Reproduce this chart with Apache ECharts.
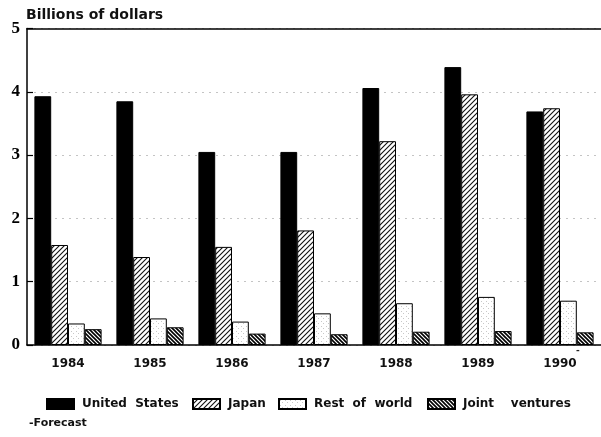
<!DOCTYPE html>
<html>
<head>
<meta charset="utf-8">
<script src="https://cdn.jsdelivr.net/npm/echarts@6/dist/echarts.min.js"></script>
<style>
  html, body { margin: 0; padding: 0; background: #fff; }
  #chart { width: 601px; height: 437px; }
</style>
</head>
<body>
<div id="chart"></div>
<script>
// Investment by source, billions of dollars (1990 is a forecast)
const years = ['1984', '1985', '1986', '1987', '1988', '1989', '1990'];
const unitedStates = [3.93, 3.85, 3.05, 3.05, 4.06, 4.39, 3.69];
const japan        = [1.58, 1.39, 1.55, 1.81, 3.22, 3.96, 3.74];
const restOfWorld  = [0.34, 0.42, 0.37, 0.50, 0.66, 0.76, 0.70];
const jointVentures = [0.25, 0.28, 0.18, 0.17, 0.21, 0.22, 0.20];
const yTicks = [0, 1, 2, 3, 4, 5];
const forecastYear = '1990';

// Fill patterns for the bars
function makePattern(size, draw) {
  const c = document.createElement('canvas');
  c.width = size; c.height = size;
  const ctx = c.getContext('2d');
  ctx.fillStyle = '#fff';
  ctx.fillRect(0, 0, size, size);
  draw(ctx, size);
  return { image: c, repeat: 'repeat' };
}
// forward-slash hatching
const hatchForward = makePattern(5, (ctx, s) => {
  ctx.strokeStyle = '#111';
  ctx.lineWidth = 1.1;
  ctx.beginPath();
  ctx.moveTo(-1, s + 1); ctx.lineTo(s + 1, -1);
  ctx.moveTo(-1, 1); ctx.lineTo(1, -1);
  ctx.moveTo(s - 1, s + 1); ctx.lineTo(s + 1, s - 1);
  ctx.stroke();
});
// dense back-slash hatching
const hatchBack = makePattern(4, (ctx, s) => {
  ctx.strokeStyle = '#000';
  ctx.lineWidth = 1.6;
  ctx.beginPath();
  ctx.moveTo(-1, -1); ctx.lineTo(s + 1, s + 1);
  ctx.moveTo(s - 1, -1); ctx.lineTo(s + 1, 1);
  ctx.moveTo(-1, s - 1); ctx.lineTo(1, s + 1);
  ctx.stroke();
});
// light stipple
const stipple = makePattern(5, (ctx) => {
  ctx.fillStyle = '#c8c8c8';
  ctx.fillRect(1, 1, 1, 1);
  ctx.fillRect(3, 3, 1, 1);
});

const sansBold = { fontFamily: 'DejaVu Sans', fontWeight: 'bold', color: '#111' };

function barSeries(name, data, fill) {
  return {
    name: name,
    type: 'bar',
    data: data,
    barWidth: 16.8,
    barGap: '0%',
    itemStyle: { color: fill, borderColor: '#000', borderWidth: 1 },
    emphasis: { disabled: true }
  };
}

function legendAt(name, left, gapText) {
  return {
    data: [name],
    left: left,
    top: 398,
    padding: 0,
    icon: 'rect',
    itemWidth: 27,
    itemHeight: 10,
    itemGap: 0,
    formatter: () => gapText,
    textStyle: Object.assign({ fontSize: 12, padding: [0, 0, 0, 3] }, sansBold),
    selectedMode: false
  };
}

const chart = echarts.init(document.getElementById('chart'));
chart.setOption({
  animation: false,
  backgroundColor: '#fff',
  title: [
    { text: 'Billions of dollars', left: 26, top: 8, padding: 0,
      textStyle: Object.assign({ fontSize: 14 }, sansBold) },
    { text: '-Forecast', left: 29, top: 418, padding: 0,
      textStyle: Object.assign({ fontSize: 11 }, sansBold) }
  ],
  legend: [
    legendAt('United States', 46, 'United  States'),
    legendAt('Japan', 192, 'Japan'),
    legendAt('Rest of world', 278, 'Rest  of  world'),
    legendAt('Joint ventures', 427, 'Joint    ventures')
  ],
  grid: { left: 27, top: 28.5, width: 580, bottom: 92 },
  xAxis: [
    {
      type: 'category',
      data: years,
      boundaryGap: true,
      axisLine: { lineStyle: { color: '#000', width: 1.5 } },
      axisTick: { show: false },
      axisLabel: Object.assign({ fontSize: 12, margin: 13 }, sansBold)
    },
    {
      type: 'category',
      position: 'top',
      data: years,
      axisLine: { show: true, onZero: false, lineStyle: { color: '#000', width: 1.5 } },
      axisTick: { show: false },
      axisLabel: { show: false }
    }
  ],
  yAxis: {
    type: 'value',
    min: yTicks[0],
    max: yTicks[yTicks.length - 1],
    interval: 1,
    axisLine: { show: true, lineStyle: { color: '#000', width: 1.5 } },
    axisTick: { show: true, inside: true, length: 6, lineStyle: { color: '#000', width: 1.2 } },
    axisLabel: {
      fontFamily: 'Liberation Serif', fontWeight: 'bold', fontSize: 17,
      color: '#000', margin: 7
    },
    splitLine: { show: true, lineStyle: { color: '#c4c4c4', type: [2, 5], width: 1 } }
  },
  series: [
    barSeries('United States', unitedStates, '#000'),
    barSeries('Japan', japan, hatchForward),
    barSeries('Rest of world', restOfWorld, stipple),
    barSeries('Joint ventures', jointVentures, hatchBack)
  ]
});

// Forecast mark beside the last year label
const fx = chart.convertToPixel({ xAxisIndex: 0 }, forecastYear);
const fy = chart.convertToPixel({ yAxisIndex: 0 }, 0);
chart.setOption({
  graphic: [{
    type: 'text',
    x: fx + 16,
    y: fy + 1,
    style: { text: '-', fontFamily: 'DejaVu Sans', fontWeight: 'bold', fontSize: 9, fill: '#222' }
  }]
});
</script>
</body>
</html>
